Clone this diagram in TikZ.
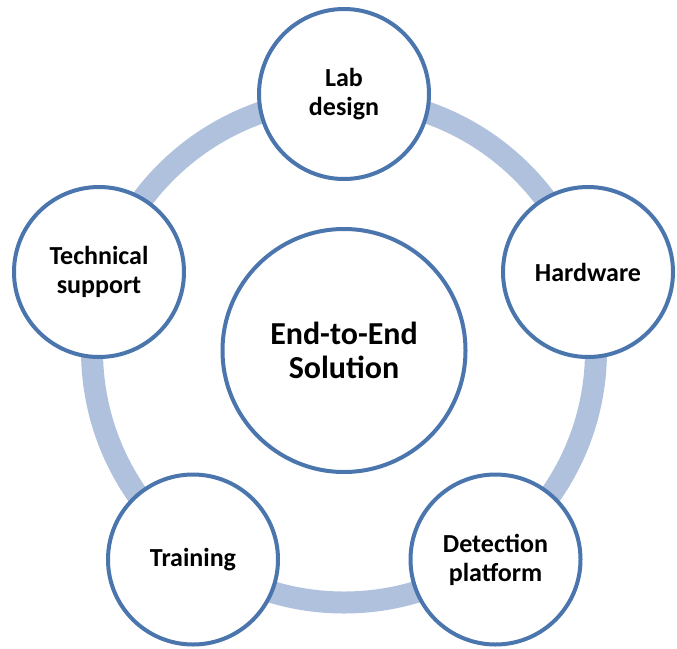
\documentclass[tikz,border=0pt]{standalone}
\usepackage{fontspec}
\setmainfont{Carlito}
\definecolor{ringcol}{RGB}{176,193,221}
\definecolor{edgecol}{RGB}{74,117,173}
\begin{document}
\begin{tikzpicture}[x=1pt,y=-1pt,
  small/.style={circle,draw=edgecol,line width=4pt,fill=white,minimum size=170pt,inner sep=0pt,
    align=center,font=\fontsize{26}{29}\selectfont\bfseries},
  big/.style={circle,draw=edgecol,line width=4pt,fill=white,minimum size=243pt,inner sep=0pt,
    align=center,font=\fontsize{32}{34}\selectfont\bfseries}]
\useasboundingbox (0,0) rectangle (677,648);
\coordinate (c) at (344,350.5);
\draw[ringcol,line width=22pt] (c) circle[radius=252pt];
\node[big] (center) at (344,350.5) {End-to-End\\Solution};
\node[small] (lab) at (344,94) {Lab\\design};
\node[small] (hw) at (588,272) {Hardware};
\node[small] (det) at (495.5,559.5) {Detection\\platform};
\node[small] (train) at (193,559.5) {Training};
\node[small] (tech) at (99,272) {Technical\\support};
\end{tikzpicture}
\end{document}
